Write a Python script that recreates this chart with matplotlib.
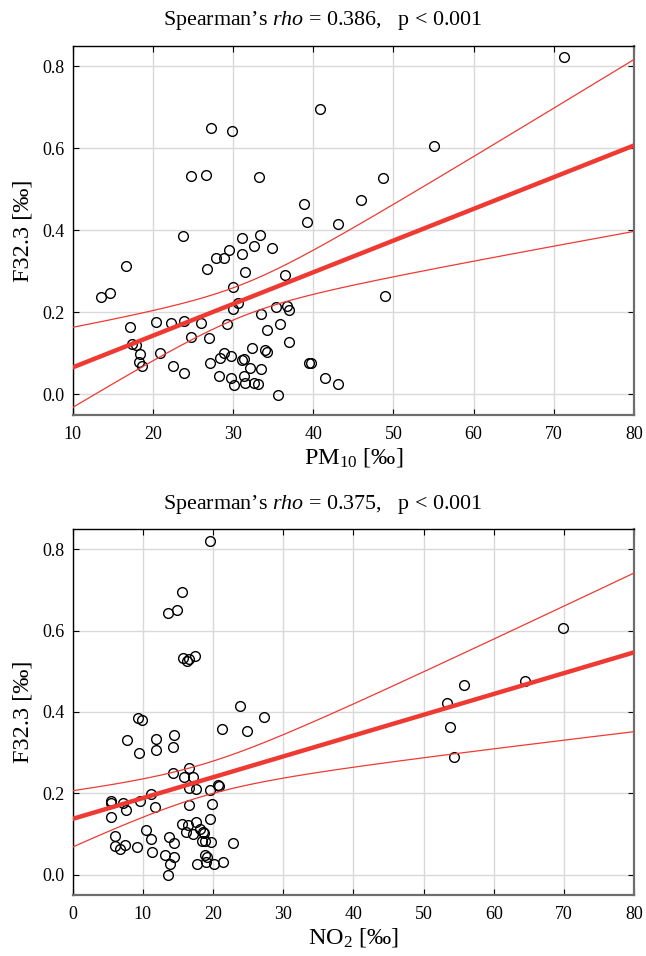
import numpy as np
import matplotlib
matplotlib.use("Agg")
from matplotlib import pyplot as plt

plt.rcParams["font.family"] = ["Liberation Serif", "DejaVu Serif"]
plt.rcParams["mathtext.fontset"] = "custom"
plt.rcParams["mathtext.rm"] = "Liberation Serif"
plt.rcParams["mathtext.it"] = "Liberation Serif:italic"

# PM10 vs F32.3
pm10 = [38.8, 39.2, 43.1, 23.8, 31.1, 33.3, 32.6, 34.9, 29.5, 31.1,
        27.9, 28.9, 16.6, 26.8, 31.5, 36.5, 30.0, 13.5, 14.7, 30.6,
        30.0, 35.4, 36.7, 37.0, 33.5, 17.1, 20.4, 22.3, 23.9, 26.0,
        29.2, 34.2, 35.8, 24.8, 27.0, 37.0, 17.4, 17.9, 32.3, 34.0,
        34.2, 18.4, 20.9, 28.9, 28.4, 29.7, 18.3, 18.6, 27.1, 31.4,
        31.1, 22.5, 32.1, 33.5, 39.5, 39.7, 23.9, 28.3, 29.8, 31.4,
        31.5, 30.1, 32.6, 33.1, 41.5, 43.1, 35.6, 40.8, 27.3, 29.9,
        24.8, 26.6, 33.2, 71.3, 55.0, 48.7, 46.0, 49.0]
f32_pm10 = [0.465, 0.420, 0.415, 0.386, 0.381, 0.388, 0.363, 0.356, 0.351, 0.342,
            0.332, 0.332, 0.313, 0.305, 0.298, 0.290, 0.262, 0.238, 0.247, 0.222,
            0.209, 0.213, 0.215, 0.206, 0.197, 0.164, 0.177, 0.175, 0.180, 0.174,
            0.172, 0.157, 0.171, 0.139, 0.137, 0.128, 0.123, 0.121, 0.112, 0.108,
            0.103, 0.098, 0.102, 0.101, 0.090, 0.093, 0.078, 0.070, 0.077, 0.087,
            0.083, 0.069, 0.065, 0.061, 0.076, 0.077, 0.053, 0.045, 0.040, 0.046,
            0.029, 0.023, 0.028, 0.025, 0.041, 0.025, -0.002, 0.697, 0.650, 0.643,
            0.532, 0.536, 0.531, 0.823, 0.607, 0.528, 0.475, 0.239]

# NO2 vs F32.3
no2 = [19.55, 15.6, 13.55, 14.9, 15.7, 16.3, 16.6, 17.4,
       23.9, 27.3, 9.3, 9.9, 21.3, 24.9, 14.5, 7.8, 11.9, 11.9,
       14.3, 9.5, 14.3, 16.6, 15.8, 17.2, 16.6, 17.6, 19.6, 20.7,
       20.9, 11.1, 5.4, 5.4, 7.2, 9.6, 7.6, 11.8, 16.6, 19.8,
       5.5, 19.5, 10.5, 15.6, 16.4, 17.6, 16.2, 17.1, 18.1, 18.6,
       18.7, 18.5, 18.8, 6.0, 11.1, 13.7, 14.5, 19.7, 22.9, 6.1,
       6.8, 7.4, 9.1, 11.3, 13.2, 14.5, 18.8, 19.2, 13.8, 17.7,
       19.0, 20.1, 21.4, 13.6,
       69.9, 64.4, 55.8, 53.3, 53.8, 54.4]
f32_no2 = [0.820, 0.695, 0.642, 0.650, 0.533, 0.526, 0.531, 0.537,
           0.415, 0.388, 0.386, 0.380, 0.357, 0.353, 0.344, 0.332, 0.333, 0.307,
           0.313, 0.299, 0.249, 0.263, 0.241, 0.239, 0.214, 0.210, 0.208, 0.221,
           0.217, 0.198, 0.180, 0.177, 0.176, 0.181, 0.159, 0.166, 0.172, 0.174,
           0.141, 0.138, 0.111, 0.124, 0.123, 0.130, 0.104, 0.100, 0.112, 0.105,
           0.103, 0.082, 0.082, 0.096, 0.088, 0.092, 0.079, 0.080, 0.077, 0.071,
           0.062, 0.073, 0.067, 0.055, 0.048, 0.044, 0.049, 0.043, 0.026, 0.027,
           0.030, 0.027, 0.031, 0.000,
           0.606, 0.475, 0.466, 0.421, 0.362, 0.290]

RED = "#ee3a32"


def fit_with_band(x, y, x_grid, t=1.99):
    x = np.asarray(x, dtype=float)
    y = np.asarray(y, dtype=float)
    n = len(x)
    slope, intercept = np.polyfit(x, y, 1)
    resid = y - (intercept + slope * x)
    s = np.sqrt(np.sum(resid ** 2) / (n - 2))
    sxx = np.sum((x - x.mean()) ** 2)
    fit = intercept + slope * x_grid
    half = t * s * np.sqrt(1.0 / n + (x_grid - x.mean()) ** 2 / sxx)
    return fit, fit - half, fit + half


def draw_panel(ax, x, y, xlim, xticks, xlabel):
    x_grid = np.linspace(xlim[0], xlim[1], 200)
    fit, lo, hi = fit_with_band(x, y, x_grid)
    ax.plot(x, y, "o", mfc="none", mec="black", ms=7, mew=1.0, zorder=3)
    ax.plot(x_grid, fit, color=RED, lw=3.2, zorder=4)
    ax.plot(x_grid, lo, color=RED, lw=0.9, zorder=4)
    ax.plot(x_grid, hi, color=RED, lw=0.9, zorder=4)
    ax.set_xlim(*xlim)
    ax.set_ylim(-0.05, 0.85)
    ax.set_xticks(xticks)
    ax.set_yticks([0.0, 0.2, 0.4, 0.6, 0.8])
    ax.set_yticklabels(["0.0", "0.2", "0.4", "0.6", "0.8"])
    ax.grid(True, color="#d9d9d9", lw=1.0)
    ax.set_axisbelow(True)
    ax.tick_params(direction="in", top=True, right=True, length=4,
                   labelsize=13)
    ax.tick_params(axis="y", pad=6)
    ax.tick_params(axis="x", pad=8)
    ax.set_xlabel(xlabel, fontsize=17.5, labelpad=2)
    ax.set_ylabel("F32.3 [‰]", fontsize=17.5, labelpad=6)
    for side in ("left", "top"):
        ax.spines[side].set_linewidth(1.0)
        ax.spines[side].set_color("black")
    for side in ("right", "bottom"):
        ax.spines[side].set_linewidth(1.6)
        ax.spines[side].set_color("#6e6e6e")


fig = plt.figure(figsize=(6.46, 9.56), dpi=100)
ax1 = fig.add_axes([0.1125, 0.566, 0.869, 0.386])
ax2 = fig.add_axes([0.1125, 0.0638, 0.869, 0.383])

draw_panel(ax1, pm10, f32_pm10, (10, 80), range(10, 81, 10), "PM$_{10}$ [‰]")
draw_panel(ax2, no2, f32_no2, (0, 80), range(0, 81, 10), "NO$_{2}$ [‰]")

fig.text(0.5, 1 - 20 / 956, "Spearman’s $\\it{rho}$ = 0.386,   p < 0.001",
         ha="center", va="center", fontsize=15.8)
fig.text(0.5, 1 - 505 / 956, "Spearman’s $\\it{rho}$ = 0.375,   p < 0.001",
         ha="center", va="center", fontsize=15.8)

fig.savefig("out.png", dpi=100)
